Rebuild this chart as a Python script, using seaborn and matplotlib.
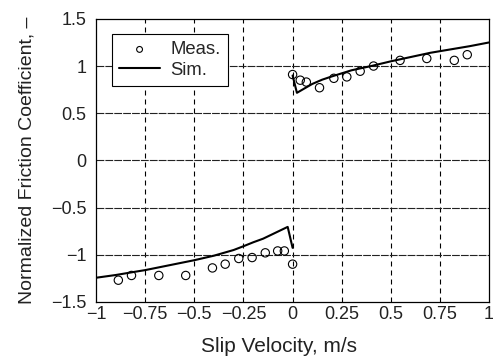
import pandas as pd
import seaborn as sns
import matplotlib.pyplot as plt

# measured friction coefficient (positive and negative slip)
meas_v_pos = [0.0, 0.039, 0.07, 0.137, 0.21, 0.276, 0.344, 0.412, 0.547, 0.683, 0.823, 0.889]
meas_mu_pos = [0.91, 0.85, 0.83, 0.77, 0.87, 0.885, 0.945, 1.0, 1.06, 1.08, 1.06, 1.12]
meas_v_neg = [-0.887, -0.82, -0.681, -0.544, -0.408, -0.343, -0.274, -0.206, -0.139, -0.076, -0.042, 0.0]
meas_mu_neg = [-1.27, -1.22, -1.22, -1.22, -1.14, -1.10, -1.04, -1.03, -0.98, -0.96, -0.96, -1.10]

# simulated curves
sim_v_pos = [0.0, 0.022, 0.05, 0.1, 0.15, 0.2, 0.3, 0.4, 0.5, 0.6, 0.7, 0.8, 0.9, 1.0]
sim_mu_pos = [0.90, 0.716, 0.75, 0.81, 0.855, 0.89, 0.955, 1.0, 1.05, 1.095, 1.14, 1.175, 1.21, 1.25]
sim_v_neg = [-1.0, -0.9, -0.8, -0.75, -0.6, -0.5, -0.4, -0.3, -0.25, -0.2, -0.15, -0.1, -0.06, -0.025, 0.0]
sim_mu_neg = [-1.244, -1.215, -1.18, -1.163, -1.10, -1.058, -1.01, -0.95, -0.91, -0.868, -0.83, -0.78,
              -0.74, -0.705, -0.927]

xticks = [-1, -0.75, -0.5, -0.25, 0, 0.25, 0.5, 0.75, 1]
xticklabels = ['\u22121', '\u22120.75', '\u22120.5', '\u22120.25', '0', '0.25', '0.5', '0.75', '1']
yticks = [-1.5, -1, -0.5, 0, 0.5, 1, 1.5]
yticklabels = ['\u22121.5', '\u22121', '\u22120.5', '0', '0.5', '1', '1.5']

meas = pd.DataFrame({'v': meas_v_neg + meas_v_pos, 'mu': meas_mu_neg + meas_mu_pos})
sim_pos = pd.DataFrame({'v': sim_v_pos, 'mu': sim_mu_pos})
sim_neg = pd.DataFrame({'v': sim_v_neg, 'mu': sim_mu_neg})

sns.set_theme(style='white')
plt.rcParams['font.family'] = ['Liberation Sans', 'DejaVu Sans']
txt = '#222222'

fig, ax = plt.subplots(figsize=(4.93, 3.56), dpi=100)
fig.subplots_adjust(left=0.195, right=0.992, top=0.947, bottom=0.152)

# grid
for x in xticks[1:-1]:
    ax.axvline(x, color='black', lw=0.8, ls=(0, (4.5, 3.6)), zorder=0)
for y in yticks[1:-1]:
    ax.axhline(y, color='#222222', lw=0.8, ls=(0, (7, 1)), zorder=0)

sns.scatterplot(data=meas, x='v', y='mu', ax=ax, marker='o', s=36,
                facecolor='none', edgecolor='black', linewidth=0.8, label='Meas.', zorder=3)
sns.lineplot(data=sim_pos, x='v', y='mu', estimator=None, sort=False,
             ax=ax, color='black', lw=1.5, label='Sim.', zorder=4)
sns.lineplot(data=sim_neg, x='v', y='mu', estimator=None, sort=False,
             ax=ax, color='black', lw=1.5, zorder=4)

ax.set_xlim(-1, 1)
ax.set_ylim(-1.5, 1.5)
ax.set_xticks(xticks)
ax.set_xticklabels(xticklabels)
ax.set_yticks(yticks)
ax.set_yticklabels(yticklabels)
ax.tick_params(labelsize=13, length=0, colors=txt)
ax.tick_params(axis='y', pad=7)
ax.tick_params(axis='x', pad=3)
ax.set_xlabel('Slip Velocity, m/s', fontsize=15, color=txt)
ax.set_ylabel('Normalized Friction Coefficient, \u2013', fontsize=14, color=txt)
ax.xaxis.set_label_coords(0.466, -0.125)
ax.yaxis.set_label_coords(-0.155, 0.5)

for s in ax.spines.values():
    s.set_color('black')
    s.set_linewidth(0.9)

leg = ax.legend(loc='upper left', bbox_to_anchor=(0.04, 0.947), borderaxespad=0,
                fontsize=13.3, frameon=True, fancybox=False, handlelength=2.2,
                handletextpad=0.55, borderpad=0.4, labelspacing=0.2, markerscale=0.7)
leg.get_frame().set_edgecolor('black')
leg.get_frame().set_linewidth(0.8)
leg.get_frame().set_alpha(1)

fig.savefig('out.png', dpi=100)
